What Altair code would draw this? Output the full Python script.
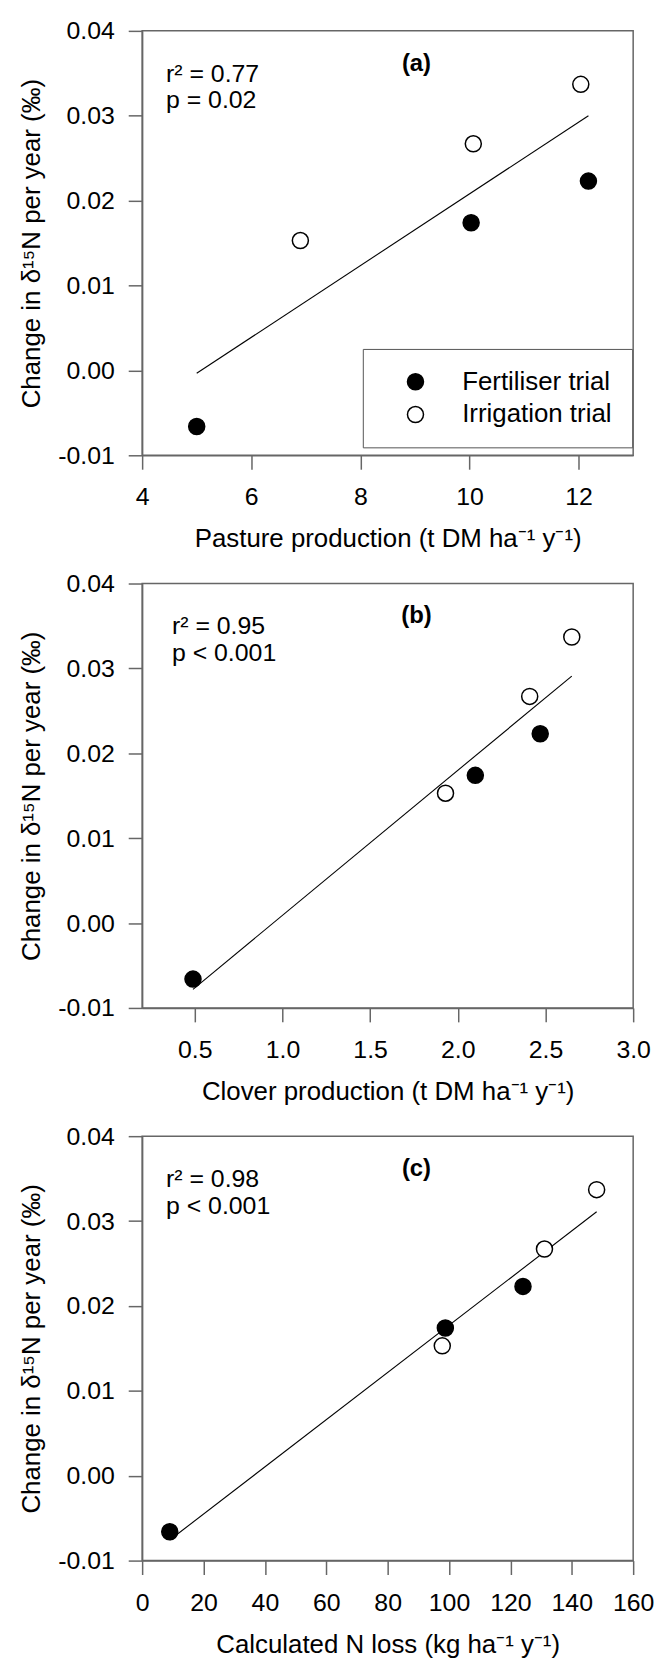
import altair as alt
import pandas as pd

# ---- data ----
trials = ["Fertiliser trial", "Irrigation trial"]
fert_change = [-0.0066, 0.0174, 0.0223]
irr_change = [0.0153, 0.0267, 0.0337]

pasture_fert = [5.0, 10.03, 12.18]
pasture_irr = [6.9, 10.07, 12.04]
clover_fert = [0.49, 2.10, 2.47]
clover_irr = [1.93, 2.41, 2.65]
nloss_fert = [9.0, 98.8, 124.1]
nloss_irr = [97.8, 131.1, 148.1]

y_ticks = [-0.01, 0.0, 0.01, 0.02, 0.03, 0.04]
pasture_ticks = [4, 6, 8, 10, 12]
clover_ticks = [0.5, 1.0, 1.5, 2.0, 2.5, 3.0]
nloss_ticks = [0, 20, 40, 60, 80, 100, 120, 140, 160]

stats = [("r² = 0.77", "p = 0.02"), ("r² = 0.95", "p < 0.001"), ("r² = 0.98", "p < 0.001")]
letters = ["(a)", "(b)", "(c)"]
x_titles = [
    "Pasture production (t DM ha⁻¹ y⁻¹)",
    "Clover production (t DM ha⁻¹ y⁻¹)",
    "Calculated N loss (kg ha⁻¹ y⁻¹)",
]
y_title = "Change in δ¹⁵N per year (‰)"

FONT = "Liberation Sans"
W, H = 494, 427


def panel(xf, xi, domain, ticks, fmt, xtitle, stat, letter, r2x, show_legend):
    df = pd.DataFrame({
        "x": list(xf) + list(xi),
        "y": fert_change + irr_change,
        "trial": [trials[0]] * len(xf) + [trials[1]] * len(xi),
    })
    base = alt.Chart(df)
    xenc = alt.X("x:Q", scale=alt.Scale(domain=domain, nice=False, zero=False),
                 axis=alt.Axis(values=ticks, format=fmt, title=xtitle))
    yenc = alt.Y("y:Q", scale=alt.Scale(domain=[-0.01, 0.04], nice=False, zero=False),
                 axis=alt.Axis(values=y_ticks, title=y_title,
                               labelExpr="datum.value < 0 ? '-' + format(-datum.value, '.2f') : format(datum.value, '.2f')"))
    line = base.transform_regression("x", "y").mark_line(color="black", strokeWidth=1.1).encode(
        x=xenc, y=yenc)
    if show_legend:
        leg = alt.Legend(title=None, orient="none", legendX=222, legendY=320,
                         strokeColor="#555", padding=20, symbolOffset=20,
                         labelOffset=34, rowPadding=7, symbolType="circle",
                         symbolSize=260, symbolStrokeColor="black",
                         symbolStrokeWidth=1.5, labelFontSize=26, labelFont=FONT,
                         labelColor="black", fillColor="white")
    else:
        leg = None
    pts = base.mark_circle(size=260, stroke="black", strokeWidth=1.5, opacity=1).encode(
        x=xenc, y=yenc,
        fill=alt.Fill("trial:N", scale=alt.Scale(domain=trials, range=["black", "white"]),
                      legend=leg),
    )
    tdf = pd.DataFrame({"t1": [stat[0]], "t2": [stat[1]], "lab": [letter]})
    tb = alt.Chart(tdf)
    t1 = tb.mark_text(align="left", baseline="alphabetic", fontSize=25, font=FONT,
                      color="black").encode(x=alt.value(r2x), y=alt.value(51), text="t1:N")
    t2 = tb.mark_text(align="left", baseline="alphabetic", fontSize=25, font=FONT,
                      color="black").encode(x=alt.value(r2x), y=alt.value(78), text="t2:N")
    t3 = tb.mark_text(align="center", baseline="middle", fontSize=24, font=FONT,
                      fontWeight="bold", color="black").encode(
        x=alt.value(276), y=alt.value(33), text="lab:N")
    return alt.layer(line, pts, t1, t2, t3).properties(width=W, height=H)


pa = panel(pasture_fert, pasture_irr, [4, 13], pasture_ticks, "d", x_titles[0], stats[0], letters[0], 24, True)
pb = panel(clover_fert, clover_irr, [0.2, 3.0], clover_ticks, ".1f", x_titles[1], stats[1], letters[1], 30, False)
pc = panel(nloss_fert, nloss_irr, [0, 160], nloss_ticks, "d", x_titles[2], stats[2], letters[2], 24, False)

chart = alt.vconcat(pa, pb, pc, spacing=18).resolve_legend(fill="independent").properties(
    padding={"left": 18, "top": 13, "right": 5, "bottom": 5}
).configure(font=FONT).configure_view(
    stroke="#666", strokeWidth=1.5
).configure_axis(
    grid=False, labelFontSize=25, titleFontSize=26, titleFontWeight="normal",
    labelFont=FONT, titleFont=FONT, labelColor="black", titleColor="black",
    domainColor="#666", tickColor="#666", domainWidth=1.5, tickWidth=1.5,
    tickSize=14, labelPadding=14, labelFlush=False, labelOverlap=False,
).configure_axisX(titlePadding=16, labelPadding=16).configure_axisY(titlePadding=13)

chart.save("out.html", embed_options={"renderer": "svg", "actions": False})
